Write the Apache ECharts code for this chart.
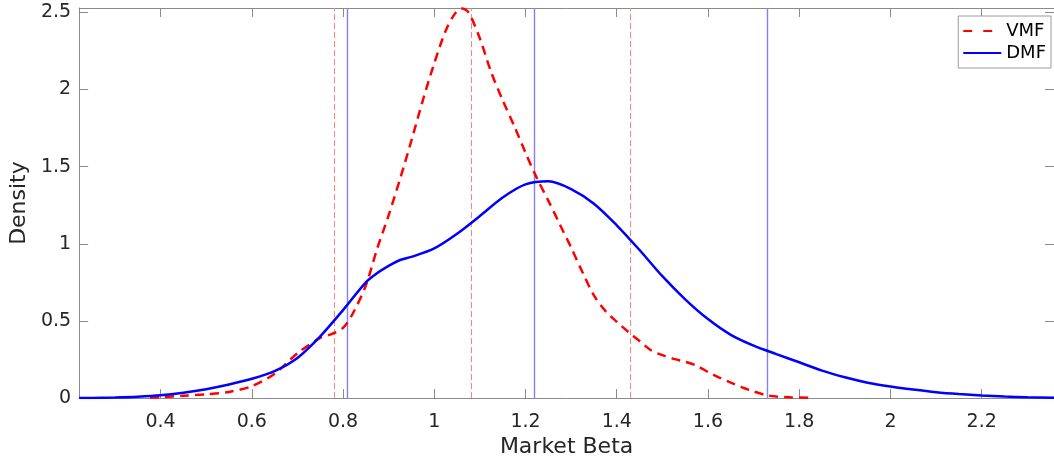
<!DOCTYPE html>
<html>
<head>
<meta charset="utf-8">
<title>Market Beta density</title>
<script src="https://cdn.jsdelivr.net/npm/echarts@6/dist/echarts.min.js"></script>
<style>
  html, body { margin: 0; padding: 0; background: #ffffff; }
  #chart { width: 1054px; height: 463px; }
</style>
</head>
<body>
<div id="chart"></div>
<script>
// Kernel density of market beta, VMF funds
const vmfBeta = [0.377, 0.40, 0.45, 0.50, 0.55, 0.60, 0.65, 0.70, 0.75, 0.775, 0.80, 0.82, 0.85, 0.875, 0.90, 0.925, 0.95, 0.975, 1.00, 1.025, 1.045, 1.06, 1.075, 1.10, 1.125, 1.15, 1.175, 1.20, 1.225, 1.25, 1.275, 1.30, 1.325, 1.35, 1.375, 1.40, 1.425, 1.45, 1.475, 1.50, 1.525, 1.55, 1.575, 1.60, 1.625, 1.65, 1.675, 1.70, 1.725, 1.75, 1.78, 1.821];
const vmfDensity = [0.003, 0.006, 0.015, 0.025, 0.04, 0.077, 0.158, 0.29, 0.39, 0.415, 0.455, 0.54, 0.73, 0.97, 1.185, 1.42, 1.67, 1.93, 2.17, 2.38, 2.49, 2.525, 2.50, 2.33, 2.11, 1.93, 1.765, 1.59, 1.425, 1.28, 1.127, 0.976, 0.815, 0.665, 0.565, 0.495, 0.43, 0.37, 0.31, 0.278, 0.254, 0.235, 0.21, 0.17, 0.133, 0.10, 0.07, 0.043, 0.021, 0.01, 0.005, 0.002];

// Kernel density of market beta, DMF funds
const dmfBeta = [0.2215, 0.25, 0.30, 0.35, 0.40, 0.45, 0.50, 0.55, 0.60, 0.65, 0.70, 0.75, 0.80, 0.85, 0.875, 0.90, 0.925, 0.95, 1.00, 1.05, 1.10, 1.15, 1.20, 1.25, 1.30, 1.35, 1.40, 1.45, 1.50, 1.55, 1.60, 1.65, 1.70, 1.75, 1.80, 1.85, 1.90, 1.95, 2.00, 2.05, 2.10, 2.15, 2.20, 2.25, 2.30, 2.3585];
const dmfDensity = [0.0, 0.001, 0.004, 0.009, 0.018, 0.035, 0.058, 0.088, 0.125, 0.175, 0.26, 0.40, 0.57, 0.75, 0.81, 0.857, 0.895, 0.915, 0.97, 1.065, 1.18, 1.30, 1.385, 1.405, 1.355, 1.26, 1.12, 0.96, 0.79, 0.64, 0.512, 0.41, 0.34, 0.285, 0.232, 0.178, 0.135, 0.10, 0.075, 0.055, 0.038, 0.026, 0.017, 0.01, 0.006, 0.003];

// Reference betas marked with vertical lines
const vmfMarkers = [0.777, 1.08, 1.4275];
const dmfMarkers = [0.808, 1.223, 1.727];

// Axis ranges and tick labels
const xRange = [0.2215, 2.3585];
const yRange = [0, 2.528];
const xTicks = [0.4, 0.6, 0.8, 1, 1.2, 1.4, 1.6, 1.8, 2, 2.2];
const yTicks = [0, 0.5, 1, 1.5, 2, 2.5];

const FONT = "'DejaVu Sans', 'Liberation Sans', sans-serif";
const TEXT = '#262626';
const AXIS = '#8a8a8a';
const VMF_COLOR = '#ff0000';
const DMF_COLOR = '#0000ff';
const VMF_MARK = '#ff8080';
const DMF_MARK = '#8080ff';

const pairs = (xs, ys) => xs.map((x, i) => [x, ys[i]]);

function boxAxis(extra) {
  return Object.assign({
    type: 'value',
    axisLine: { show: true, onZero: false, lineStyle: { color: AXIS, width: 1 } },
    splitLine: { show: false }
  }, extra);
}

function ticks(values) {
  return { show: true, inside: true, length: 9, customValues: values, lineStyle: { color: AXIS, width: 1 } };
}

function markerLines(values, color, type, width) {
  const style = { color: color, width: width, type: type, opacity: 1 };
  return {
    silent: true,
    z: 1,
    symbol: ['none', 'none'],
    label: { show: false },
    emphasis: { disabled: true },
    lineStyle: style,
    data: values.map(v => ({ xAxis: v, lineStyle: style }))
  };
}

const chart = echarts.init(document.getElementById('chart'), null, { renderer: 'canvas' });

chart.setOption({
  animation: false,
  backgroundColor: '#ffffff',
  textStyle: { fontFamily: FONT },
  grid: { left: 77, right: -5, top: 8, bottom: 64, containLabel: false },
  legend: {
    orient: 'vertical',
    right: 3,
    top: 16,
    padding: [6, 5, 6, 4],
    itemWidth: 38,
    itemHeight: 14,
    itemGap: 4,
    borderColor: '#9a9a9a',
    borderWidth: 1,
    backgroundColor: '#ffffff',
    itemStyle: { color: 'rgba(0,0,0,0)', borderColor: 'rgba(0,0,0,0)', borderWidth: 0 },
    textStyle: { fontFamily: FONT, fontSize: 18, color: '#000000' },
    data: [
      { name: 'VMF', lineStyle: { type: [9, 11] } },
      { name: 'DMF' }
    ]
  },
  xAxis: [
    boxAxis({
      position: 'bottom',
      min: xRange[0], max: xRange[1],
      name: 'Market Beta',
      nameLocation: 'middle',
      nameGap: 36,
      nameTextStyle: { fontFamily: FONT, fontSize: 22, color: TEXT },
      axisTick: ticks(xTicks),
      axisLabel: { show: true, margin: 14, customValues: xTicks, fontFamily: FONT, fontSize: 19, color: TEXT, formatter: v => String(v) }
    }),
    boxAxis({
      position: 'top',
      min: xRange[0], max: xRange[1],
      axisTick: ticks(xTicks),
      axisLabel: { show: false }
    })
  ],
  yAxis: [
    boxAxis({
      position: 'left',
      min: yRange[0], max: yRange[1],
      name: 'Density',
      nameLocation: 'middle',
      nameGap: 45,
      nameTextStyle: { fontFamily: FONT, fontSize: 22, color: TEXT },
      axisTick: ticks(yTicks),
      axisLabel: { show: true, margin: 8, customValues: yTicks, fontFamily: FONT, fontSize: 19, color: TEXT, formatter: v => String(v) }
    }),
    boxAxis({
      position: 'right',
      min: yRange[0], max: yRange[1],
      axisTick: ticks(yTicks),
      axisLabel: { show: false }
    })
  ],
  series: [
    {
      name: 'VMF',
      type: 'line',
      xAxisIndex: 0,
      yAxisIndex: 0,
      data: pairs(vmfBeta, vmfDensity),
      showSymbol: false,
      symbol: 'none',
      smooth: 0.3,
      clip: true,
      z: 3,
      color: VMF_COLOR,
      lineStyle: { color: VMF_COLOR, width: 2.5, type: [9, 6] },
      markLine: markerLines(vmfMarkers, VMF_MARK, [6, 3], 1)
    },
    {
      name: 'DMF',
      type: 'line',
      xAxisIndex: 0,
      yAxisIndex: 0,
      data: pairs(dmfBeta, dmfDensity),
      showSymbol: false,
      symbol: 'none',
      smooth: 0.3,
      clip: true,
      z: 4,
      color: DMF_COLOR,
      lineStyle: { color: DMF_COLOR, width: 2.5, type: 'solid' },
      markLine: markerLines(dmfMarkers, DMF_MARK, 'solid', 1.4)
    }
  ]
});
</script>
</body>
</html>
